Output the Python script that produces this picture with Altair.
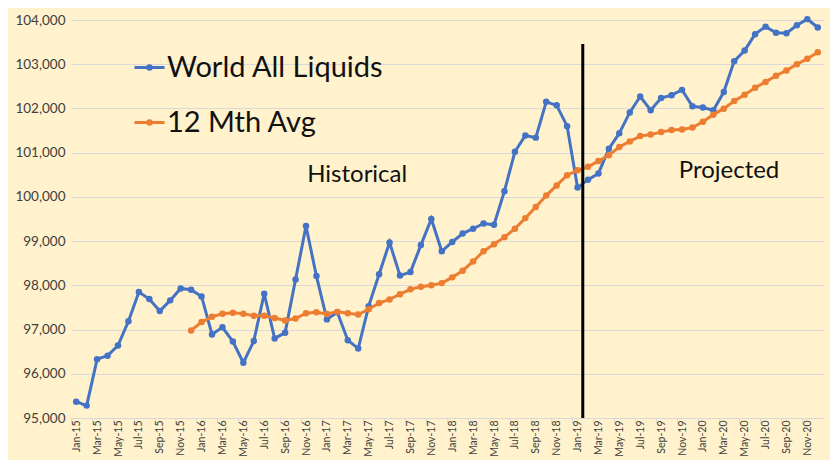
import json
import altair as alt
import pandas as pd

month_names = ["Jan", "Feb", "Mar", "Apr", "May", "Jun", "Jul", "Aug", "Sep", "Oct", "Nov", "Dec"]
years = ["15", "16", "17", "18", "19", "20"]
months = [f"{m}-{y}" for y in years for m in month_names]

world_all_liquids = [
    95370, 95280, 96330, 96410, 96640, 97190, 97850, 97690, 97420, 97660, 97930, 97900,
    97750, 96890, 97050, 96730, 96250, 96740, 97810, 96800, 96930, 98130, 99340, 98210,
    97230, 97390, 96760, 96570, 97530, 98250, 98970, 98220, 98300, 98910, 99500, 98770,
    98980, 99170, 99280, 99400, 99370, 100130, 101020, 101390, 101340, 102150, 102070, 101600,
    100210, 100390, 100530, 101090, 101440, 101910, 102270, 101960, 102235, 102300, 102420, 102050,
    102020, 101960, 102370, 103070, 103310, 103680, 103850, 103710, 103700, 103880, 104020, 103830,
]
avg_start = "Dec-15"
twelve_mth_avg = [
    96980,
    97170, 97290, 97360, 97380, 97360, 97310, 97310, 97260, 97205, 97250, 97370, 97390,
    97350, 97400, 97370, 97340, 97460, 97600, 97680, 97800, 97910, 97970, 98000, 98050,
    98180, 98330, 98540, 98770, 98930, 99090, 99280, 99520, 99770, 100030, 100260, 100490,
    100600, 100680, 100810, 100940, 101130, 101255, 101375, 101410, 101465, 101510, 101525, 101570,
    101700, 101860, 101995, 102170, 102310, 102470, 102600, 102740, 102860, 103000, 103125, 103270,
]

series_names = ["World All Liquids", "12 Mth Avg"]
series_colors = ["#4472C4", "#ED7D31"]

y_ticks = [95000, 96000, 97000, 98000, 99000, 100000, 101000, 102000, 103000, 104000]

divider = {"idx": 48.5, "value": 95000, "value2": 103460}
notes = pd.DataFrame({
    "idx": [26.9, 62.5],
    "value": [100500, 100590],
    "text": ["Historical", "Projected"],
})

start = months.index(avg_start)
df_w = pd.DataFrame({"idx": list(range(len(months))), "value": world_all_liquids,
                     "series": series_names[0]})
df_a = pd.DataFrame({"idx": list(range(start, start + len(twelve_mth_avg))),
                     "value": twelve_mth_avg, "series": series_names[1]})

FONT = "Lato"
W, H = 752, 398
n = len(months)
half = W / n / 2

label_expr = json.dumps(months).replace('"', "'") + "[datum.value]"

x_enc = alt.X(
    "idx:Q",
    scale=alt.Scale(domain=[-0.5, n - 0.5], nice=False, zero=False),
    axis=alt.Axis(
        title=None, values=list(range(0, n, 2)), labelExpr=label_expr,
        labelAngle=-90, labelFontSize=10.5, labelColor="#404040", labelFont=FONT,
        grid=False, domainColor="#D9D9D9", domainWidth=1, tickColor="#D9D9D9",
        tickSize=5, tickOffset=-half, labelOffset=half, labelPadding=-3,
        labelBaseline="middle", labelAlign="right", labelOverlap=False,
    ),
)
y_enc = alt.Y(
    "value:Q",
    scale=alt.Scale(domain=[95000, 104000], nice=False, zero=False),
    axis=alt.Axis(
        title=None, values=y_ticks, format=",d", labelFontSize=13.5,
        labelColor="#404040", labelFont=FONT, domain=False, ticks=False,
        gridColor="#D9D9D9", gridWidth=1, labelPadding=6,
    ),
)
color_enc = alt.Color(
    "series:N",
    scale=alt.Scale(domain=series_names, range=series_colors),
    legend=alt.Legend(
        title=None, orient="none", legendX=62, legendY=31,
        labelFontSize=29, labelFont=FONT, labelColor="#111111", labelLimit=500,
        symbolType="M-1,0L1,0M0.12,0A0.12,0.12,0,1,1,-0.12,0A0.12,0.12,0,1,1,0.12,0Z",
        symbolSize=900, symbolStrokeWidth=3, rowPadding=23, labelOffset=1,
        padding=0,
    ),
)

def series_layer(d):
    return alt.Chart(d).mark_line(
        strokeWidth=3,
        point=alt.OverlayMarkDef(filled=True, size=42),
    ).encode(x=x_enc, y=y_enc, color=color_enc)

rule = alt.Chart(pd.DataFrame([divider])).mark_rule(color="black", strokeWidth=3).encode(
    x=x_enc, y=y_enc, y2="value2:Q",
)
text = alt.Chart(notes).mark_text(fontSize=24, font=FONT, color="#111111").encode(
    x=x_enc, y=y_enc, text="text:N",
)

chart = alt.layer(series_layer(df_w), series_layer(df_a), rule, text).properties(
    width=W, height=H,
    autosize=alt.AutoSizeParams(type="none"),
    padding={"left": 63, "top": 12, "right": 7, "bottom": 42},
    background="#FFF2CC",
).configure_view(stroke=None).configure_axisX(labelOverlap=False)

chart.save("out.html", embed_options={"renderer": "svg", "actions": False})
